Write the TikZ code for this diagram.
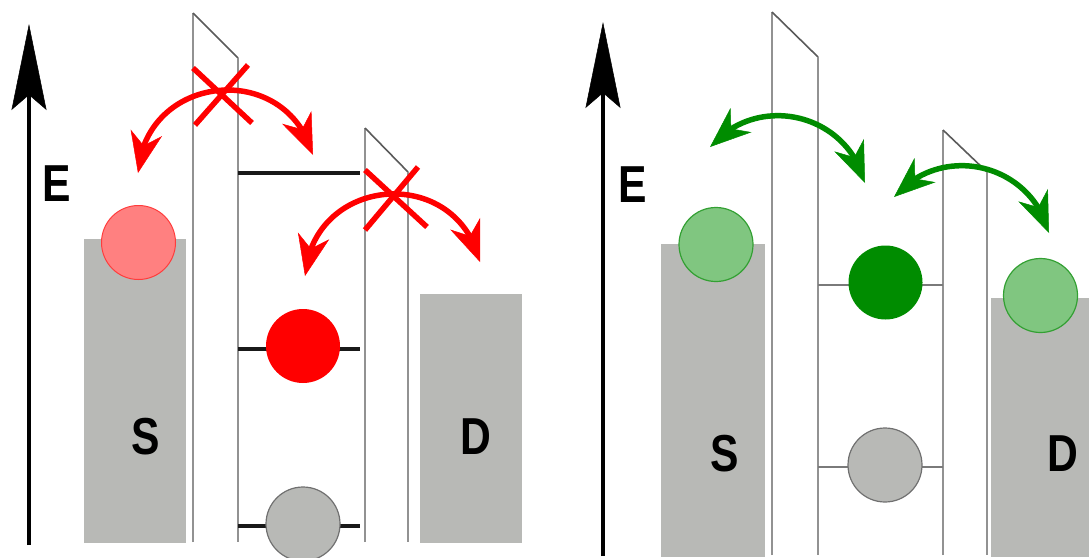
\documentclass[tikz,border=0pt]{standalone}
\usepackage{fontspec}
\setmainfont{Liberation Sans}
\usetikzlibrary{arrows.meta,bending}
\definecolor{sgray}{HTML}{B8B9B6}
\definecolor{barcol}{HTML}{929292}
\definecolor{diagcol}{HTML}{5A5A5A}
\definecolor{pinkfill}{HTML}{FF8080}
\definecolor{pinkedge}{HTML}{FF3C3C}
\definecolor{redc}{HTML}{FF0000}
\definecolor{lgreen}{HTML}{80C680}
\definecolor{lgreenedge}{HTML}{33A033}
\definecolor{dgreen}{HTML}{008C00}
\definecolor{cgrayedge}{HTML}{707070}
\definecolor{lvlgray}{HTML}{7A7A7A}
\begin{document}
\begin{tikzpicture}[x=1pt,y=-1pt,
  lbl/.style={inner sep=0pt,font=\fontsize{52}{52}\selectfont\bfseries,xscale=0.82},
  axisarrow/.style={line width=3.8pt,black,-{Stealth[length=86pt,width=35pt,inset=15pt,line width=0.5pt]}},
  barv/.style={draw=barcol,line width=2.6pt},
  bard/.style={draw=diagcol,line width=1.6pt},
  lvlblack/.style={draw=black!90,line width=3.2pt},
  lvlgrey/.style={draw=lvlgray,line width=2.2pt},
  dot/.style={circle,minimum size=74pt,inner sep=0pt},
  pinkdot/.style={dot,fill=pinkfill,draw=pinkedge,line width=1pt},
  reddot/.style={dot,fill=redc},
  graydot/.style={dot,fill=sgray,draw=cgrayedge,line width=1.2pt},
  lgdot/.style={dot,fill=lgreen,draw=lgreenedge,line width=1.2pt},
  dgdot/.style={dot,fill=dgreen},
  hop/.style={line width=5.5pt,>={Stealth[length=41pt,width=32pt,inset=13pt,line width=0.5pt]},<->},
  redhop/.style={hop,draw=redc,fill=none},
  greenhop/.style={hop,draw=dgreen,fill=none},
  xmark/.style={draw=redc,line width=5.5pt}
]
\useasboundingbox (0,0) rectangle (1089,557);

% ================= LEFT PANEL =================
\fill[sgray] (84,239) rectangle (186,543);
\fill[sgray] (420,294) rectangle (522,543);

\draw[barv] (193,542) -- (193,13);
\draw[bard] (193,13) -- (238,58);
\draw[barv] (238,58) -- (238,542);
\draw[barv] (365,542) -- (365,128);
\draw[bard] (365,128) -- (408,172);
\draw[barv] (408,172) -- (408,542);

\draw[lvlblack] (238,173) -- (360,173);
\draw[lvlblack] (238,349) -- (360,349);
\draw[lvlblack] (238,526) -- (360,526);

\node[pinkdot] (pL) at (138.5,242.5) {};
\node[reddot] (rL) at (303,346) {};
\node[graydot] (gL) at (303,524) {};

\draw[axisarrow] (29,545) -- (29,24);
\node[lbl] (EL) at (56.5,184) {E};
\node[lbl] (SL) at (145.5,436.5) {S};
\node[lbl] (DL) at (476,436.5) {D};

\coordinate (a1l) at (138,173);
\coordinate (a1r) at (313,155);
\draw[redhop] (a1l) .. controls (145,73.3) and (285.9,58.8) .. (a1r);
\draw[xmark] (193,68) -- (252,123);
\draw[xmark] (248,65) -- (195,125);

\coordinate (a2l) at (305,276);
\coordinate (a2r) at (480,262);
\draw[redhop] (a2l) .. controls (312.9,175.1) and (456.2,163.6) .. (a2r);
\draw[xmark] (365,170) -- (427,227);
\draw[xmark] (418,167) -- (365,230);

% ================= RIGHT PANEL =================
\fill[sgray] (661,244) rectangle (765,557);
\fill[sgray] (991,298) rectangle (1089,557);

\draw[barv] (772,555) -- (772,12);
\draw[bard] (772,12) -- (818,57);
\draw[barv] (818,57) -- (818,555);
\draw[barv] (943,555) -- (943,130);
\draw[bard] (943,130) -- (987,172);
\draw[barv] (987,172) -- (987,555);

\draw[lvlgrey] (818,285) -- (943,285);
\draw[lvlgrey] (818,467) -- (943,467);

\node[lgdot] (gS) at (716,244.5) {};
\node[dgdot] (gM) at (885.5,282.5) {};
\node[graydot] (gR) at (885,465) {};
\node[lgdot] (gD) at (1040.5,295.5) {};

\draw[axisarrow] (603,556) -- (603,22);
\node[lbl] (ER) at (633,185) {E};
\node[lbl] (SR) at (724.5,454) {S};
\node[lbl] (DR) at (1062.5,454) {D};

\coordinate (b1l) at (710,147);
\coordinate (b1r) at (865,183);
\draw[greenhop] (b1l) .. controls (757.3,92) and (846.9,112.8) .. (b1r);
\coordinate (b2l) at (894,197);
\coordinate (b2r) at (1049,233);
\draw[greenhop] (b2l) .. controls (941.3,142) and (1030.9,162.8) .. (b2r);
\end{tikzpicture}
\end{document}
